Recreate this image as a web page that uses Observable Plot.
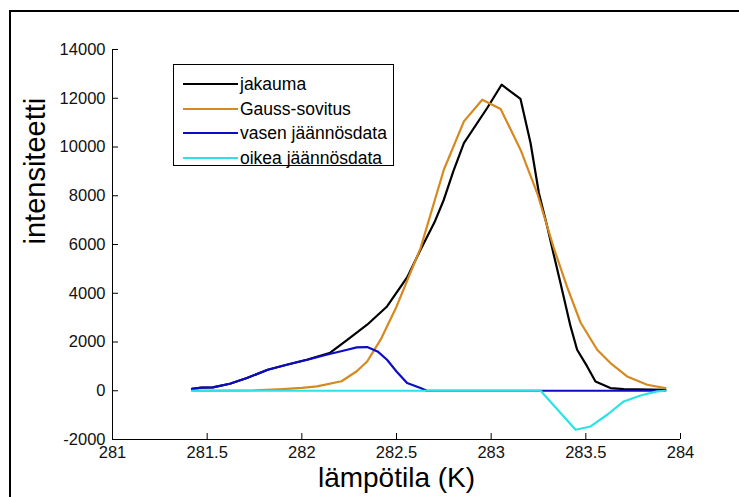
<!DOCTYPE html>
<html>
<head>
<meta charset="utf-8">
<script src="https://cdn.jsdelivr.net/npm/d3@7"></script>
<script src="https://cdn.jsdelivr.net/npm/@observablehq/plot@0.6"></script>
<style>
  html, body { margin: 0; padding: 0; background: #fff; }
  #fig { position: relative; width: 739px; height: 497px; overflow: hidden; background: #fff;
         font-family: "Liberation Sans", Arial, Helvetica, sans-serif; }
  #frame { position: absolute; left: 9px; top: 10px; width: 900px; height: 700px;
           border-left: 2px solid #000; border-top: 2px solid #000; pointer-events: none; z-index: 2; }
  #chart { position: absolute; left: 0; top: 0; }
  #legend { position: absolute; left: 173px; top: 64px; width: 219px; height: 100px;
            border: 1px solid #000; background: #fff; z-index: 3; }
  .row { position: absolute; left: 0; height: 0; }
  .swatch { position: absolute; left: 9px; width: 55px; top: -1px; border-top: 2px solid; }
  .name { position: absolute; left: 66px; top: -10px; font-size: 17.5px; line-height: 20px;
          white-space: nowrap; color: #000; }
</style>
</head>
<body>
<div id="fig">
  <div id="chart"></div>
  <div id="frame"></div>
  <div id="legend"></div>
</div>
<script>
// Series names and colours (legend order = drawing order)
const seriesNames = ["jakauma", "Gauss-sovitus", "vasen jäännösdata", "oikea jäännösdata"];
const seriesColors = ["#000000", "#d6891f", "#0c0cc4", "#2ce2e6"];

// Measured distribution
const tJakauma = [281.42, 281.47, 281.53, 281.62, 281.71, 281.82, 281.92, 282.03, 282.15, 282.24,
  282.345, 282.45, 282.556, 282.627, 282.70, 282.75, 282.80, 282.856, 282.979, 283.055,
  283.155, 283.208, 283.252, 283.296, 283.33, 283.366, 283.419, 283.454, 283.507, 283.551,
  283.63, 283.70, 283.92];
const jakauma = [80, 130, 140, 287, 521, 862, 1067, 1280, 1560, 2092,
  2708, 3459, 4650, 5785, 6900, 7837, 9000, 10163, 11600, 12555,
  11970, 10163, 8112, 6742, 5600, 4419, 2650, 1682, 998, 383,
  111, 70, 40];

// Gaussian fit
const tGauss = [281.42, 281.60, 281.75, 281.90, 282.00, 282.08, 282.21, 282.29, 282.345, 282.42,
  282.50, 282.574, 282.627, 282.75, 282.856, 282.953, 283.05, 283.155, 283.243, 283.331,
  283.40, 283.472, 283.56, 283.63, 283.718, 283.824, 283.92];
const gauss = [0, 5, 20, 70, 120, 180, 390, 800, 1200, 2150,
  3450, 4850, 5850, 9068, 11050, 11940, 11560, 9890, 8112, 5850,
  4280, 2800, 1682, 1135, 588, 246, 111];

// Left residual
const tVasen = [281.42, 281.47, 281.53, 281.62, 281.71, 281.82, 281.92, 282.03, 282.13, 282.24,
  282.29, 282.345, 282.40, 282.45, 282.50, 282.556, 282.627, 282.66, 283.92];
const vasen = [80, 130, 140, 287, 521, 862, 1067, 1272, 1477, 1682,
  1777, 1793, 1613, 1272, 792, 316, 111, 0, 0];

// Right residual
const tOikea = [281.42, 283.261, 283.35, 283.446, 283.525, 283.613, 283.70, 283.789, 283.877, 283.92];
const oikea = [0, 0, -770, -1600, -1465, -985, -439, -193, -27, 0];

// Axis ticks
const xTicks = [281, 281.5, 282, 282.5, 283, 283.5, 284];
const yTicks = [-2000, 0, 2000, 4000, 6000, 8000, 10000, 12000, 14000];

const rows = (t, v) => t.map((x, i) => ({x, y: v[i]}));
const series = [rows(tJakauma, jakauma), rows(tGauss, gauss), rows(tVasen, vasen), rows(tOikea, oikea)];

const chart = Plot.plot({
  width: 739,
  height: 497,
  marginLeft: 112,
  marginRight: 59,
  marginTop: 49,
  marginBottom: 58,
  style: {fontFamily: '"Liberation Sans", Arial, Helvetica, sans-serif', fontSize: "16.5px",
          color: "#111", background: "transparent", overflow: "visible"},
  x: {domain: [281, 284], ticks: xTicks, tickSize: 0, tickPadding: 7, tickFormat: d => String(d), label: null},
  y: {domain: [-2000, 14000], ticks: yTicks, tickSize: 0, tickPadding: 7, tickFormat: d => String(d), label: null},
  marks: [
    // axis lines
    Plot.ruleX([281], {stroke: "#000"}),
    Plot.ruleY([-2000], {stroke: "#000"}),
    // inward ticks
    Plot.ruleX(xTicks, {x: d => d, y1: -2000, y2: -2000, insetBottom: 6, stroke: "#000"}),
    Plot.ruleY(yTicks, {y: d => d, x1: 281, x2: 281, insetLeft: 6, stroke: "#000"}),
    // data lines
    ...series.map((data, i) => Plot.line(data, {x: "x", y: "y", stroke: seriesColors[i], strokeWidth: 2.2})),
    // axis titles
    Plot.text(["intensiteetti"], {frameAnchor: "left", text: d => d, rotate: -90, dx: -77, fontSize: 29, fill: "#000"}),
    Plot.text(["lämpötila (K)"], {frameAnchor: "bottom", text: d => d, dy: 47, fontSize: 28, fill: "#000"})
  ]
});
document.getElementById("chart").appendChild(chart);

// Legend
const legend = document.getElementById("legend");
const rowTops = [19, 43.7, 68.4, 93.1];
seriesNames.forEach((name, i) => {
  const row = document.createElement("div");
  row.className = "row";
  row.style.top = rowTops[i] + "px";
  const sw = document.createElement("div");
  sw.className = "swatch";
  sw.style.borderTopColor = seriesColors[i];
  const label = document.createElement("div");
  label.className = "name";
  label.textContent = name;
  row.appendChild(sw);
  row.appendChild(label);
  legend.appendChild(row);
});
</script>
</body>
</html>
